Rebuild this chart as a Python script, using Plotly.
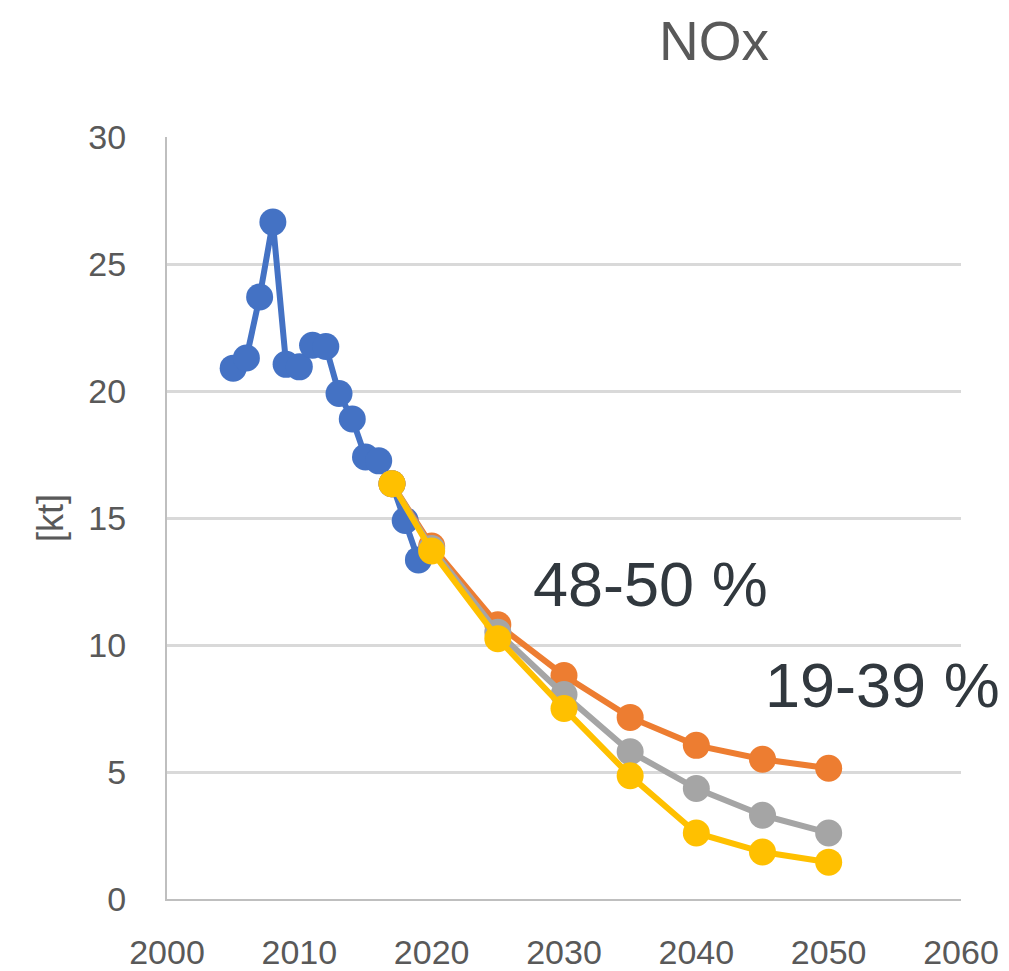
import plotly.graph_objects as go

hist_years = [2005, 2006, 2007, 2008, 2009, 2010, 2011, 2012, 2013, 2014, 2015, 2016, 2017, 2018, 2019]
hist_vals = [20.9, 21.3, 23.7, 26.65, 21.05, 20.95, 21.8, 21.75, 19.9, 18.9, 17.4, 17.25, 16.35, 14.9, 13.35]

scen_years = [2017, 2020, 2025, 2030, 2035, 2040, 2045, 2050]
orange_vals = [16.35, 13.9, 10.8, 8.8, 7.15, 6.05, 5.5, 5.15]
gray_vals = [16.35, 13.8, 10.5, 8.05, 5.8, 4.35, 3.3, 2.6]
yellow_vals = [16.35, 13.7, 10.25, 7.5, 4.85, 2.6, 1.85, 1.45]

x_ticks = [2000, 2010, 2020, 2030, 2040, 2050, 2060]
y_ticks = [0, 5, 10, 15, 20, 25, 30]

W, H = 1009, 971
OFF = 8  # page body margin

fig = go.Figure()

def add(xs, ys, color):
    fig.add_trace(go.Scatter(
        x=xs, y=ys, mode="lines+markers",
        line=dict(color=color, width=6),
        marker=dict(color=color, size=27),
        showlegend=False, cliponaxis=False,
    ))

add(hist_years, hist_vals, "#4472C4")
add(scen_years, orange_vals, "#ED7D31")
add(scen_years, gray_vals, "#A5A5A5")
add(scen_years, yellow_vals, "#FFC000")

ann_font = dict(size=63, color="#31383E", family="Liberation Sans, Arial")
fig.add_annotation(x=2036.57, y=12.4, text="48-50 %", showarrow=False, font=ann_font)
fig.add_annotation(x=2054.07, y=8.43, text="19-39 %", showarrow=False, font=ann_font)

fig.update_layout(
    width=W, height=H,
    margin=dict(l=167 - OFF, r=W - (961 - OFF), t=137 - OFF, b=H - (899 - OFF)),
    paper_bgcolor="white", plot_bgcolor="white",
    title=dict(text="NOx", x=(714 - OFF) / W, xanchor="center", y=1 - (43 - OFF - 2) / H, yanchor="middle",
               font=dict(size=55, color="#595959", family="Liberation Sans, Arial")),
)
tick_font = dict(size=34, color="#595959", family="Liberation Sans, Arial")
fig.update_xaxes(
    range=[2000, 2060], tickvals=x_ticks, ticktext=[str(v) for v in x_ticks],
    showgrid=False, zeroline=False, showline=True, linecolor="#BFBFBF", linewidth=2,
    ticks="", ticklabelstandoff=22, tickfont=tick_font, automargin=False,
)
fig.update_yaxes(
    range=[0, 30], tickvals=y_ticks, ticktext=[str(v) for v in y_ticks],
    showgrid=True, gridcolor="#D9D9D9", gridwidth=2.5, zeroline=False,
    showline=True, linecolor="#BFBFBF", linewidth=2, ticks="",
    ticklabelstandoff=32, tickfont=tick_font, automargin=False,
    title=dict(text="[kt]", standoff=14, font=dict(size=36, color="#595959", family="Liberation Sans, Arial")),
)

fig.write_html("out.html")
